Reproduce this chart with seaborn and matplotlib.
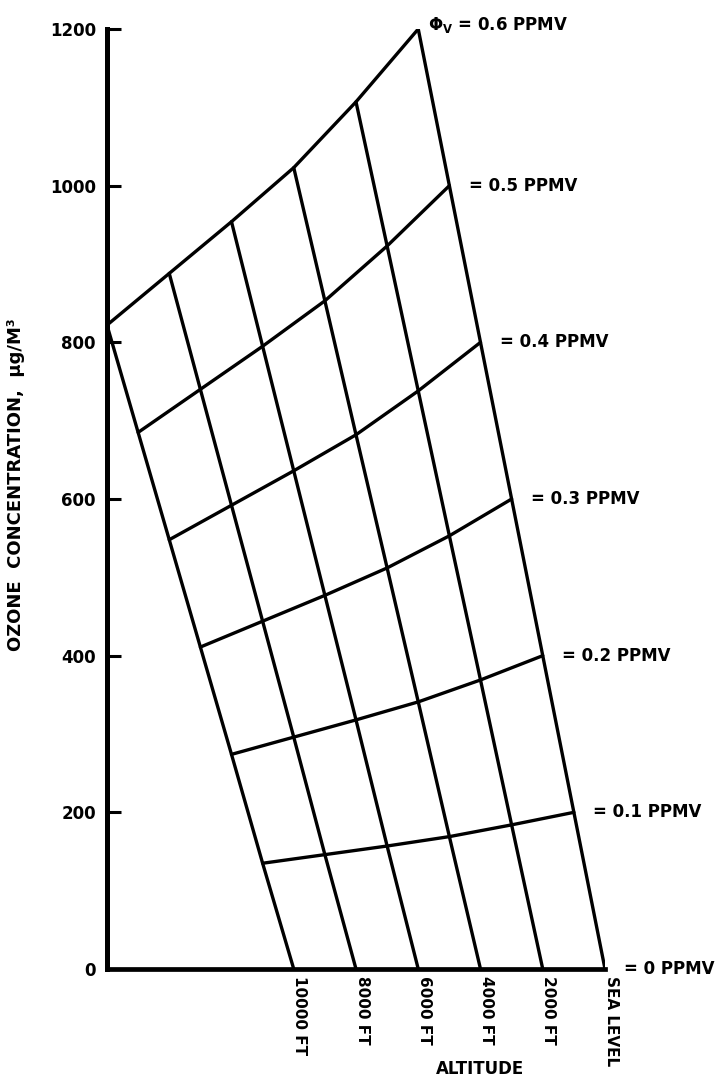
import numpy as np
import pandas as pd
import matplotlib
matplotlib.use("Agg")
import matplotlib.pyplot as plt
import seaborn as sns

altitude_labels = ["10000 FT", "8000 FT", "6000 FT", "4000 FT", "2000 FT", "SEA LEVEL"]
altitude_kft = [10, 8, 6, 4, 2, 0]                 # altitude (thousand ft), position on bottom scale
ppmv_levels = [0.0, 0.1, 0.2, 0.3, 0.4, 0.5, 0.6]
ppmv_offset_kft = [0, 1, 2, 3, 4, 5, 6]            # horizontal shift of each ppmv curve (nomograph construction)
ppmv_labels = ["= 0 PPMV", "= 0.1 PPMV", "= 0.2 PPMV", "= 0.3 PPMV",
               "= 0.4 PPMV", "= 0.5 PPMV", r"$\mathbf{\Phi_V}$ = 0.6 PPMV"]

# ozone concentration (ug/m3) at each altitude (10000 ft ... sea level) for each ppmv curve
conc_00 = [0, 0, 0, 0, 0, 0]
conc_01 = [135, 146, 157, 169, 184, 200]
conc_02 = [274, 296, 318, 341, 369, 400]
conc_03 = [411, 444, 477, 512, 553, 600]
conc_04 = [548, 592, 636, 682, 738, 800]
conc_05 = [685, 740, 795, 853, 923, 1000]
conc_06 = [822, 888, 954, 1023, 1107, 1200]
conc_table = [conc_00, conc_01, conc_02, conc_03, conc_04, conc_05, conc_06]

y_ticks = [0, 200, 400, 600, 800, 1000, 1200]

# ---- build long-form table ----
rows = []
for p, off, concs in zip(ppmv_levels, ppmv_offset_kft, conc_table):
    for a, c in zip(altitude_kft, concs):
        rows.append({"ppmv": p, "alt": a, "x": a + off, "conc": c})
df = pd.DataFrame(rows)

sns.set_theme(style="white")
plt.rcParams["font.family"] = ["DejaVu Sans"]
plt.rcParams["font.weight"] = "bold"
plt.rcParams["mathtext.default"] = "bf"
plt.rcParams["text.color"] = "black"
plt.rcParams["axes.labelcolor"] = "black"
plt.rcParams["xtick.color"] = "black"
plt.rcParams["ytick.color"] = "black"

W, H = 721, 1079
fig = plt.figure(figsize=(W / 100, H / 100), dpi=100)
ax = fig.add_axes([107 / W, 1 - 969 / H, (605 - 107) / W, (969 - 29) / H])

lw = 2.4
# ppmv curves
sns.lineplot(data=df[df["ppmv"] > 0], x="x", y="conc", units="ppmv", estimator=None,
             sort=False, color="black", lw=lw, ax=ax, legend=False)
# altitude lines
sns.lineplot(data=df.sort_values(["alt", "ppmv"]), x="x", y="conc", units="alt", estimator=None,
             sort=False, color="black", lw=lw, ax=ax, legend=False)

ax.set_xlim(16, 0)
ax.set_ylim(0, 1200)

for s in ["top", "right"]:
    ax.spines[s].set_visible(False)
ax.spines["left"].set_linewidth(3.6)
ax.spines["bottom"].set_linewidth(3.4)
for s in ["left", "bottom"]:
    ax.spines[s].set_color("black")

ax.set_yticks(y_ticks)
ax.set_yticklabels([str(v) for v in y_ticks], fontsize=12, fontweight="bold", color="black")
ax.tick_params(axis="y", direction="in", length=10, width=2.2, pad=8, colors="black", left=True)
ax.set_xticks([])
ax.set_xlabel("")
ax.set_ylabel("OZONE  CONCENTRATION,  µg/M³", fontsize=13, fontweight="bold", color="black")
ax.yaxis.set_label_coords(-0.165, 0.515)

# altitude labels under the bottom axis
for a, lab in zip(altitude_kft, altitude_labels):
    ax.annotate(lab, xy=(a, 0), xytext=(-1, -5), textcoords="offset points",
                rotation=270, ha="left", va="top", fontsize=11, fontweight="bold",
                color="black", annotation_clip=False)
ax.annotate("ALTITUDE", xy=(4, 0), xytext=(0, -72), textcoords="offset points",
            ha="center", va="center", fontsize=12, fontweight="bold", color="black",
            annotation_clip=False)

# ppmv labels at sea-level end of each curve
for p, off, concs, lab in zip(ppmv_levels, ppmv_offset_kft, conc_table, ppmv_labels):
    x_end = altitude_kft[-1] + off
    y_end = concs[-1]
    if p == 0.6:
        dx, dy = 7, 3
    else:
        dx, dy = 14, 0
    ax.annotate(lab, xy=(x_end, y_end), xytext=(dx, dy), textcoords="offset points",
                ha="left", va="center", fontsize=12, fontweight="bold", color="black",
                annotation_clip=False)

fig.savefig("out.png", dpi=100, facecolor="white")
